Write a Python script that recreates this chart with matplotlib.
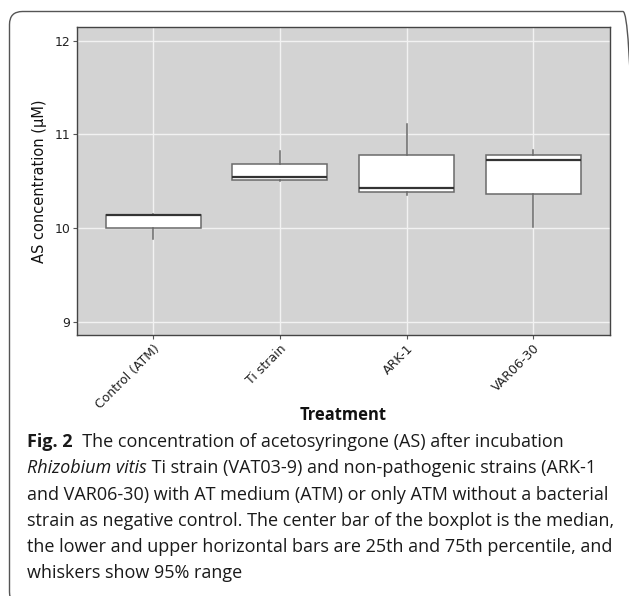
import numpy as np
import matplotlib.pyplot as plt
from matplotlib.patches import FancyBboxPatch
from matplotlib.transforms import IdentityTransform

# values (AS concentration, uM)
groups = ['Control (ATM)', 'Ti strain', 'ARK-1', 'VAR06-30']
q1 = [10.00, 10.515, 10.384, 10.363]
med = [10.134, 10.54, 10.423, 10.725]
q3 = [10.142, 10.686, 10.775, 10.782]
wlo = [9.886, 10.505, 10.348, 10.01]
whi = [10.15, 10.825, 11.114, 10.835]
yticks = [9, 10, 11, 12]

caption = [
    [('Fig. 2', 'bold', 'normal'), ('  The concentration of acetosyringone (AS) after incubation', 'normal', 'normal')],
    [('Rhizobium vitis', 'normal', 'italic'), (' Ti strain (VAT03-9) and non-pathogenic strains (ARK-1', 'normal', 'normal')],
    [('and VAR06-30) with AT medium (ATM) or only ATM without a bacterial', 'normal', 'normal')],
    [('strain as negative control. The center bar of the boxplot is the median,', 'normal', 'normal')],
    [('the lower and upper horizontal bars are 25th and 75th percentile, and', 'normal', 'normal')],
    [('whiskers show 95% range', 'normal', 'normal')],
]

W, H = 629, 596
fig = plt.figure(figsize=(W / 100, H / 100), dpi=100)
fig.patch.set_facecolor('white')

def fx(x):
    return x / W

def fy(y):
    return 1 - y / H

# rounded frame around the figure + caption, in pixels (right and bottom run off the edge)
frame = FancyBboxPatch((9.5, H - 605), 636 - 9.5, 605 - 11.5,
                       boxstyle='round,pad=0,rounding_size=13',
                       transform=IdentityTransform(), facecolor='none',
                       edgecolor='#555555', linewidth=1.0)
fig.patches.append(frame)

ax = fig.add_axes([fx(77), fy(335), fx(609.5) - fx(77), fy(26.7) - fy(335)])
ax.set_facecolor('#d3d3d3')

stats = []
for i, g in enumerate(groups):
    stats.append(dict(label=g, q1=q1[i], med=med[i], q3=q3[i],
                      whislo=wlo[i], whishi=whi[i]))
pos = np.arange(1, len(groups) + 1)
ax.bxp(stats, positions=pos, widths=0.75, showfliers=False, showcaps=False,
       patch_artist=True,
       boxprops=dict(facecolor='white', edgecolor='#6a6a6a', linewidth=1.1),
       medianprops=dict(color='#333333', linewidth=1.6),
       whiskerprops=dict(color='#6a6a6a', linewidth=1.1))

ax.set_xlim(0.4, 4.6)
ax.set_ylim(8.858, 12.149)
ax.set_yticks(yticks)
ax.set_xticks(pos)
ax.set_xticklabels(groups, rotation=45, ha='right', va='top',
                   rotation_mode='anchor', fontsize=9, color='#222222')
ax.tick_params(axis='y', labelsize=9, labelcolor='#222222')
ax.tick_params(length=3, width=0.8, color='#555555', pad=2)
ax.set_axisbelow(True)
ax.grid(color='#f2f2f2', linewidth=1.0)
for s in ax.spines.values():
    s.set_color('#444444')
    s.set_linewidth(1.0)

ax.set_ylabel('AS concentration (\u03bcM)', fontsize=10.5, color='#111111', labelpad=5)

renderer = fig.canvas.get_renderer()
cap_font = 'Open Sans'

# axis title, sized to its width in the reference
t = fig.text(fx(343), fy(415), 'Treatment', ha='center', va='center',
             fontsize=11, fontweight='bold', family=cap_font, color='#111111')
w = t.get_window_extent(renderer).width
t.set_fontsize(11 * 87 / w)

# caption, font size fitted so the longest line spans the text block
probe = fig.text(0, 0, caption[3][0][0], fontsize=11, family=cap_font)
cap_size = 11 * 590 / probe.get_window_extent(renderer).width
probe.remove()

y0 = 442
for k, line in enumerate(caption):
    x = 27
    y = y0 + k * 26.3
    for txt, weight, style in line:
        tt = fig.text(fx(x), fy(y + 5), txt, ha='left', va='baseline',
                      fontsize=cap_size, fontweight=weight, fontstyle=style,
                      family=cap_font, color='#1a1a1a')
        x += tt.get_window_extent(renderer).width

fig.savefig('out.png', dpi=100)
